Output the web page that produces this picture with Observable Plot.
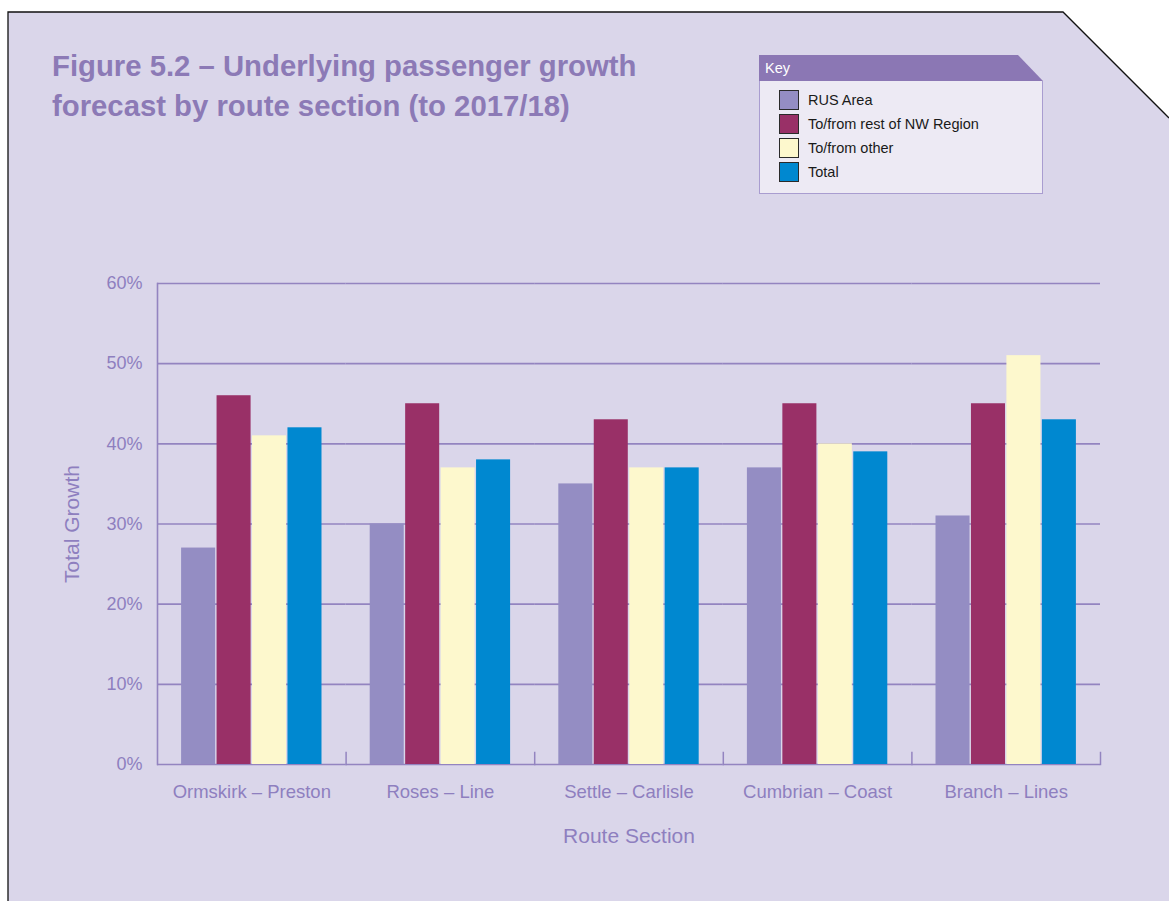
<!DOCTYPE html>
<html>
<head>
<meta charset="utf-8">
<script src="https://cdn.jsdelivr.net/npm/d3@7"></script>
<script src="https://cdn.jsdelivr.net/npm/@observablehq/plot@0.6"></script>
<style>
  html, body { margin: 0; padding: 0; background: #ffffff; }
  #page { position: relative; width: 1169px; height: 901px; overflow: hidden; font-family: "Liberation Sans", Arial, sans-serif; }
  #panel { position: absolute; left: 0; top: 0; }
  #title { position: absolute; left: 52px; top: 46px; font-weight: bold; font-size: 29.3px; line-height: 40px; color: #8c7ab6; white-space: nowrap; }
  #legend { position: absolute; left: 759px; top: 55px; width: 284px; }
  #legend .head { height: 26px; background: #8b77b4; color: #ffffff; font-size: 14.5px; line-height: 27px; padding-left: 6px;
    clip-path: polygon(0 0, calc(100% - 25px) 0, 100% 100%, 0 100%); }
  #legend .body { position: relative; height: 112px; background: #edeaf4; border: 1.5px solid #a99dd0; border-top: none; }
  #legend .row { position: absolute; left: 19px; height: 20px; display: flex; align-items: center; }
  #legend .sw { width: 18px; height: 18px; border: 1.3px solid #2a2a2a; margin-right: 9px; }
  #legend .lab { font-size: 14.5px; color: #1a1a1a; }
  #chart { position: absolute; left: 0; top: 260px; }
</style>
</head>
<body>
<div id="page">
  <svg id="panel" width="1169" height="901">
    <polygon points="8,12 1063,12 1169,118 1169,901 8,901" fill="#dad6ea"></polygon>
    <polyline points="8,901 8,12 1063,12 1169,118" fill="none" stroke="#111" stroke-width="1.3"></polyline>
  </svg>
  <div id="title">Figure 5.2 – Underlying passenger growth<br>forecast by route section (to 2017/18)</div>
  <div id="legend"></div>
  <div id="chart"></div>
</div>
<script>
const routes = ["Ormskirk – Preston", "Roses – Line", "Settle – Carlisle", "Cumbrian – Coast", "Branch – Lines"];
const series = ["RUS Area", "To/from rest of NW Region", "To/from other", "Total"];
const rusArea = [27, 30, 35, 37, 31];
const restOfNW = [46, 45, 43, 45, 45];
const fromOther = [41, 37, 37, 40, 51];
const total = [42, 38, 37, 39, 43];
const colors = ["#948dc3", "#993067", "#fdf8cd", "#0088d0"];
const yTicks = [0, 10, 20, 30, 40, 50, 60];

const seriesValues = [rusArea, restOfNW, fromOther, total];
const data = [];
routes.forEach((r, i) => series.forEach((s, j) => data.push({route: r, series: s, value: seriesValues[j][i]})));

const axisColor = "#9384c0";
const textColor = "#8e7fbf";

// legend
const legend = document.getElementById("legend");
const head = document.createElement("div"); head.className = "head"; head.textContent = "Key"; legend.appendChild(head);
const body = document.createElement("div"); body.className = "body"; legend.appendChild(body);
series.forEach((s, j) => {
  const row = document.createElement("div"); row.className = "row"; row.style.top = (9 + j * 24) + "px";
  const sw = document.createElement("div"); sw.className = "sw"; sw.style.background = colors[j];
  const lab = document.createElement("span"); lab.className = "lab"; lab.textContent = s;
  row.appendChild(sw); row.appendChild(lab); body.appendChild(row);
});

const chart = Plot.plot({
  width: 1169,
  height: 600,
  marginLeft: 157,
  marginRight: 69,
  marginTop: 23,
  marginBottom: 96,
  style: {fontFamily: "Liberation Sans, Arial, sans-serif", color: textColor, background: "transparent", overflow: "visible"},
  fx: {domain: routes, padding: 0, round: false},
  x: {domain: series, paddingOuter: 0.68, paddingInner: 0.04, round: false, axis: null},
  y: {domain: [0, 60]},
  color: {domain: series, range: colors},
  marks: [
    Plot.ruleY(yTicks, {stroke: axisColor, strokeWidth: 1.6}),
    Plot.barY(data, {fx: "route", x: "series", y: "value", fill: "series"}),
    Plot.frame({anchor: "right", insetTop: 469, stroke: axisColor, strokeWidth: 1.5}),
    Plot.frame({anchor: "left", facetAnchor: "left", stroke: axisColor, strokeWidth: 1.6}),
    Plot.axisY({
      ticks: yTicks, tickSize: 0, tickPadding: 15, fontSize: 18, tickFormat: d => d + "%",
      color: textColor, label: "Total Growth", labelAnchor: "center", labelArrow: "none", labelOffset: 93
    }),
    Plot.axisFx({
      anchor: "bottom", tickSize: 0, tickPadding: 20, fontSize: 18.5, color: textColor,
      label: "Route Section", labelAnchor: "center", labelArrow: "none", labelOffset: 78
    })
  ]
});
document.getElementById("chart").appendChild(chart);
chart.querySelectorAll("g[aria-label='y-axis label'] text, g[aria-label='fx-axis label'] text").forEach(t => t.setAttribute("font-size", "21"));
</script>
</body>
</html>
